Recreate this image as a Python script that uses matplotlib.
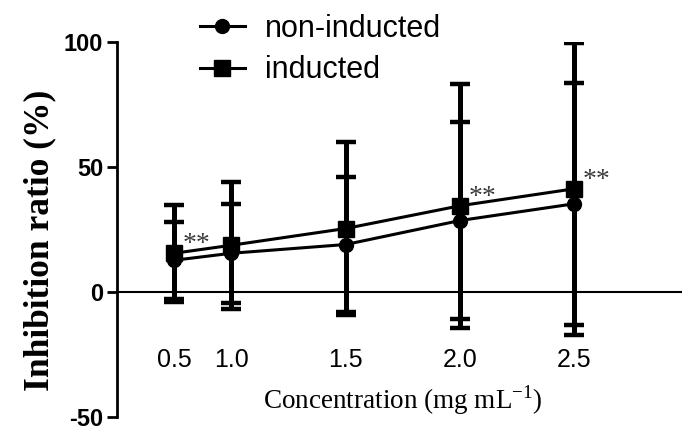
import matplotlib
matplotlib.use('Agg')
import matplotlib.pyplot as plt

# data
conc_pos = [0.75, 1.0, 1.5, 2.0, 2.5]
conc_labels = ['0.5', '1.0', '1.5', '2.0', '2.5']

non_mean = [12.7, 15.5, 19.0, 28.6, 35.3]
non_sd = [15.3, 19.8, 27.0, 39.3, 48.4]

ind_mean = [15.5, 18.7, 25.4, 34.5, 41.3]
ind_sd = [19.5, 25.3, 34.6, 48.8, 58.3]

# which points carry the "**" mark (index into the inducted series)
star_idx = [0, 3, 4]

y_ticks = [-50, 0, 50, 100]

sans = 'Liberation Sans'
serif = 'Liberation Serif'

fig = plt.figure(figsize=(6.82, 4.30), dpi=100)
ax = fig.add_axes([117/682, 13/430, 1 - 117/682, 375/430])

# error bars first so the markers sit on top
for mean, sd in [(non_mean, non_sd), (ind_mean, ind_sd)]:
    ax.errorbar(conc_pos, mean, yerr=sd, fmt='none', ecolor='black',
                elinewidth=3.6, capsize=7, capthick=3.2, zorder=2)

l1, = ax.plot(conc_pos, non_mean, color='black', lw=2.2, marker='o',
              markersize=10, zorder=3, label='non-inducted')
l2, = ax.plot(conc_pos, ind_mean, color='black', lw=2.2, marker='s',
              markersize=11, zorder=3, label='inducted')

for i in star_idx:
    ax.annotate('**', (conc_pos[i], ind_mean[i]), xytext=(16, 6),
                textcoords='offset points', ha='center', va='center',
                fontsize=20, family=serif, color='#3a3a3a')

ax.set_xlim(0.5, 2.97)
ax.set_ylim(-50, 100)

ax.spines['top'].set_visible(False)
ax.spines['right'].set_visible(False)
ax.spines['left'].set_linewidth(2.0)
ax.spines['bottom'].set_position(('data', 0))
ax.spines['bottom'].set_linewidth(1.5)

ax.set_yticks(y_ticks)
ax.set_yticklabels([str(v) for v in y_ticks], family=sans, fontweight='bold', fontsize=17)
ax.tick_params(axis='y', direction='out', length=7, width=2.0, pad=3)

ax.set_xticks(conc_pos)
ax.set_xticklabels(conc_labels, family=sans, fontsize=18)
ax.tick_params(axis='x', length=0, pad=40)

fig.text(403/682, 1 - 400/430, 'Concentration (mg mL$^{\\mathregular{-1}}$)',
         ha='center', va='center', family=serif, fontsize=19.5)
fig.text(40/682, 1 - 240/430, 'Inhibition ratio (%)', rotation=90,
         ha='center', va='center', family=serif, fontweight='bold', fontsize=25.5)

ax.legend(handles=[l1, l2], loc='upper left', bbox_to_anchor=(200/682, 1 - 14/430),
          bbox_transform=fig.transFigure, frameon=False, borderpad=0,
          borderaxespad=0, handlelength=1.47, handletextpad=0.65,
          labelspacing=0.37, prop={'family': sans, 'size': 22})

fig.savefig('out.png', dpi=100)
